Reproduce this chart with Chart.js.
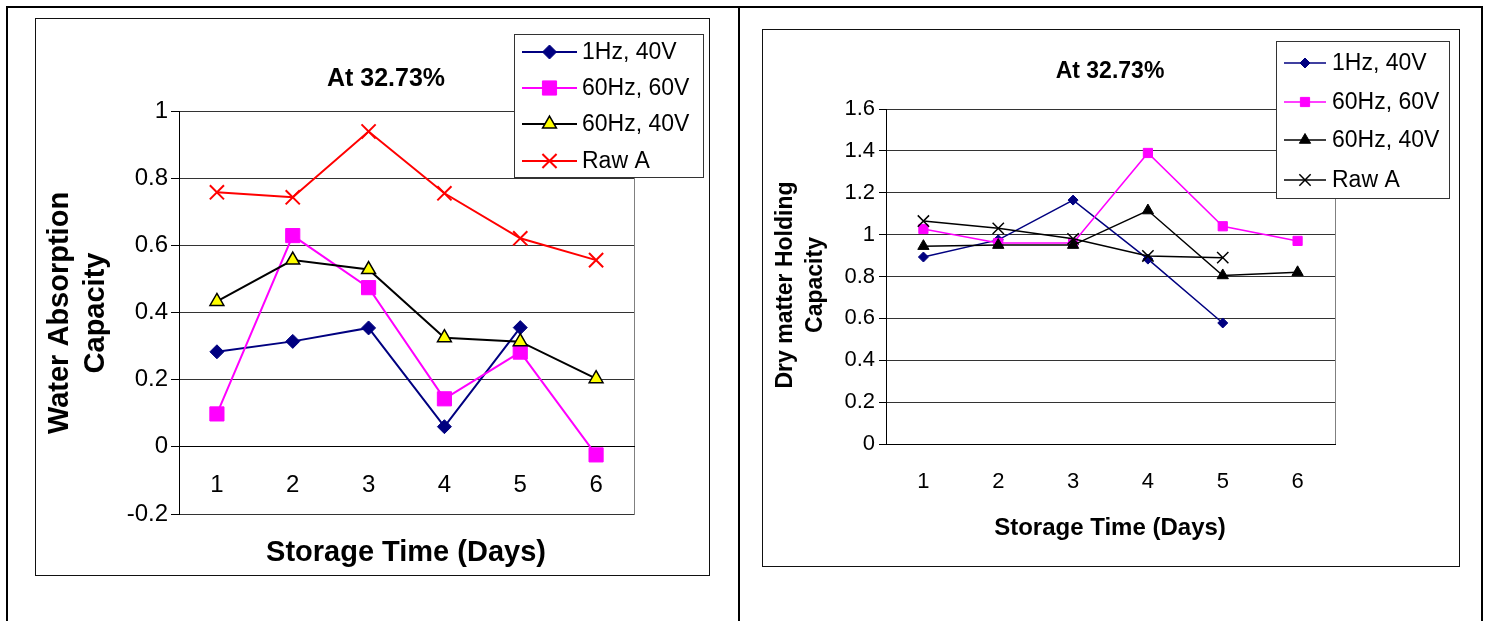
<!DOCTYPE html>
<html>
<head>
<meta charset="utf-8">
<script src="https://cdn.jsdelivr.net/npm/chart.js@4.4.1/dist/chart.umd.min.js"></script>
<style>
  html, body { margin: 0; padding: 0; background: #fff; }
  body { width: 1491px; height: 621px; position: relative; overflow: hidden; }
  .rule { position: absolute; background: #000; }
  .box { position: absolute; border: 1px solid #111; background: #fff; }
  .box canvas { position: absolute; left: 0; top: 0; }
</style>
</head>
<body>
<!-- table rules around the two figures -->
<div class="rule" style="left:6px;top:6px;width:1477px;height:2px"></div>
<div class="rule" style="left:6px;top:6px;width:2px;height:615px"></div>
<div class="rule" style="left:738px;top:6px;width:2px;height:615px"></div>
<div class="rule" style="left:1481px;top:6px;width:2px;height:615px"></div>

<div class="box" style="left:35px;top:18px;width:673px;height:556px">
  <canvas id="waChart" width="673" height="556" style="width:673px;height:556px"></canvas>
</div>
<div class="box" style="left:762px;top:29px;width:696px;height:536px">
  <canvas id="dmChart" width="696" height="536" style="width:696px;height:536px"></canvas>
</div>

<script>
// --- DATA ---
const days = ["1", "2", "3", "4", "5", "6"];
const seriesNames = ["1Hz, 40V", "60Hz, 60V", "60Hz, 40V", "Raw A"];

// water absorption capacity (left)
const wa1Hz40V = [0.283, 0.314, 0.354, 0.06, 0.355, null];
const wa60Hz60V = [0.098, 0.629, 0.474, 0.143, 0.282, -0.024];
const wa60Hz40V = [0.433, 0.556, 0.528, 0.325, 0.313, 0.203];
const waRawA = [0.758, 0.743, 0.939, 0.755, 0.621, 0.556];
const waTicks = [-0.2, 0, 0.2, 0.4, 0.6, 0.8, 1];

// dry matter holding capacity (right)
const dm1Hz40V = [0.893, 0.975, 1.165, 0.883, 0.578, null];
const dm60Hz60V = [1.027, 0.96, 0.96, 1.39, 1.04, 0.97];
const dm60Hz40V = [0.945, 0.95, 0.95, 1.115, 0.805, 0.82];
const dmRawA = [1.065, 1.03, 0.98, 0.898, 0.89, null];
const dmTicks = [0, 0.2, 0.4, 0.6, 0.8, 1, 1.2, 1.4, 1.6];

const FONT = '"Liberation Sans", Arial, sans-serif';
Chart.defaults.font.family = FONT;
Chart.defaults.color = "#000";

function drawMarker(ctx, ds, x, y) {
  ctx.save();
  ctx.fillStyle = ds.pointBackgroundColor;
  ctx.strokeStyle = ds.pointBorderColor;
  ctx.lineWidth = ds.pointBorderWidth;
  Chart.helpers.drawPoint(ctx, {
    pointStyle: ds.pointStyle, radius: ds.pointRadius,
    borderWidth: ds.pointBorderWidth, rotation: 0
  }, x, y);
  ctx.restore();
}

function vText(ctx, text, x, y) {
  ctx.save();
  ctx.translate(x, y);
  ctx.rotate(-Math.PI / 2);
  ctx.fillText(text, 0, 0);
  ctx.restore();
}

// excel-like extras: plot frame, titles and a legend overlapping the plot
function makeDecor(cfg) {
  return {
    id: "excelDecor",
    beforeDraw(chart) {
      const { ctx, chartArea: a } = chart;
      ctx.save();
      ctx.strokeStyle = "#808080";
      ctx.lineWidth = 1;
      ctx.strokeRect(Math.round(a.left) + 0.5, Math.round(a.top) + 0.5,
        Math.round(a.right - a.left), Math.round(a.bottom - a.top));
      ctx.restore();
    },
    afterDraw(chart) {
      const ctx = chart.ctx;
      ctx.save();
      ctx.fillStyle = "#000";
      ctx.textAlign = "center";
      ctx.textBaseline = "middle";

      ctx.font = "bold " + cfg.titleSize + "px " + FONT;
      ctx.fillText(cfg.title, cfg.titleX, cfg.titleY);

      ctx.font = "bold " + cfg.xTitleSize + "px " + FONT;
      ctx.fillText(cfg.xTitle, cfg.xTitleX, cfg.xTitleY);

      ctx.font = "bold " + cfg.yTitleSize + "px " + FONT;
      cfg.yTitle.forEach((line, i) => vText(ctx, line, cfg.yTitleX[i], cfg.yTitleY));

      // legend
      const L = cfg.legend;
      ctx.fillStyle = "#fff";
      ctx.fillRect(L.x, L.y, L.w, L.h);
      ctx.strokeStyle = "#333";
      ctx.lineWidth = 1;
      ctx.strokeRect(L.x + 0.5, L.y + 0.5, L.w, L.h);
      ctx.font = L.size + "px " + FONT;
      ctx.textAlign = "left";
      chart.data.datasets.forEach((ds, i) => {
        const y = L.rows[i];
        ctx.strokeStyle = ds.borderColor;
        ctx.lineWidth = ds.borderWidth;
        ctx.beginPath();
        ctx.moveTo(L.lineX1, y);
        ctx.lineTo(L.lineX2, y);
        ctx.stroke();
        drawMarker(ctx, ds, (L.lineX1 + L.lineX2) / 2, y);
        ctx.fillStyle = "#000";
        ctx.fillText(ds.label, L.textX, y + 1);
      });
      ctx.restore();
    }
  };
}

function series(label, data, color, style, radius, fill, lineW, ptBorder, order) {
  return {
    label: label, data: data, order: order,
    borderColor: color, backgroundColor: fill, borderWidth: lineW,
    pointStyle: style, pointRadius: radius, pointHoverRadius: radius,
    pointBackgroundColor: fill, pointBorderColor: ptBorder || color,
    pointBorderWidth: style === "crossRot" ? lineW : (ptBorder ? 1.5 : 1),
    tension: 0, spanGaps: false, clip: false
  };
}

// --- LEFT CHART ---
new Chart(document.getElementById("waChart"), {
  type: "line",
  data: {
    labels: days,
    datasets: [
      series(seriesNames[0], wa1Hz40V, "#000080", "rectRot", 7, "#000080", 2, null, 4),
      series(seriesNames[1], wa60Hz60V, "#FF00FF", "rect", 10, "#FF00FF", 2, null, 3),
      series(seriesNames[2], wa60Hz40V, "#000000", "triangle", 8, "#FFFF00", 2, "#000000", 2),
      series(seriesNames[3], waRawA, "#FF0000", "crossRot", 10, "#FF0000", 2, null, 1)
    ]
  },
  options: {
    responsive: false,
    animation: false,
    events: [],
    layout: { padding: { left: 0, top: 92, right: 75, bottom: 61 } },
    plugins: { legend: { display: false }, tooltip: { enabled: false } },
    scales: {
      x: {
        position: { y: 0 },
        offset: true,
        grid: { display: false, drawTicks: false, tickLength: 0 },
        border: { display: true, color: "#000", width: 1 },
        ticks: { font: { size: 24 }, padding: 24, maxRotation: 0, autoSkip: false }
      },
      y: {
        min: -0.2, max: 1,
        afterBuildTicks: s => { s.ticks = waTicks.map(v => ({ value: v })); },
        afterFit: s => { s.width = 143; },
        grid: { color: "#333", tickColor: "#000", tickLength: 8 },
        border: { color: "#000" },
        ticks: { font: { size: 24 }, padding: 3, callback: v => String(v) }
      }
    }
  },
  plugins: [makeDecor({
    title: "At 32.73%", titleSize: 25, titleX: 350, titleY: 60,
    xTitle: "Storage Time (Days)", xTitleSize: 29, xTitleX: 370, xTitleY: 534,
    yTitle: ["Water Absorption", "Capacity"], yTitleSize: 29, yTitleX: [24, 60], yTitleY: 294,
    legend: { x: 478, y: 15, w: 189, h: 143, size: 23, rows: [33, 69, 105, 142],
      lineX1: 486, lineX2: 541, textX: 546 }
  })]
});

// --- RIGHT CHART ---
new Chart(document.getElementById("dmChart"), {
  type: "line",
  data: {
    labels: days,
    datasets: [
      series(seriesNames[0], dm1Hz40V, "#000080", "rectRot", 5, "#000080", 1.5, null, 4),
      series(seriesNames[1], dm60Hz60V, "#FF00FF", "rect", 6.5, "#FF00FF", 1.5, null, 3),
      series(seriesNames[2], dm60Hz40V, "#000000", "triangle", 6.5, "#000000", 1.5, null, 2),
      series(seriesNames[3], dmRawA, "#000000", "crossRot", 8, "#000000", 1.5, null, 1)
    ]
  },
  options: {
    responsive: false,
    animation: false,
    events: [],
    layout: { padding: { left: 0, top: 79, right: 124, bottom: 0 } },
    plugins: { legend: { display: false }, tooltip: { enabled: false } },
    scales: {
      x: {
        position: "bottom",
        offset: true,
        afterFit: s => { s.height = 122; },
        grid: { display: false, drawTicks: false, tickLength: 0 },
        border: { display: true, color: "#000", width: 1 },
        ticks: { font: { size: 22 }, padding: 25, maxRotation: 0, autoSkip: false }
      },
      y: {
        min: 0, max: 1.6,
        afterBuildTicks: s => { s.ticks = dmTicks.map(v => ({ value: v })); },
        afterFit: s => { s.width = 123; },
        grid: { color: "#333", tickColor: "#000", tickLength: 7 },
        border: { color: "#000" },
        ticks: { font: { size: 22 }, padding: 4, callback: v => String(v) }
      }
    }
  },
  plugins: [makeDecor({
    title: "At 32.73%", titleSize: 23, titleX: 347, titleY: 42,
    xTitle: "Storage Time (Days)", xTitleSize: 24, xTitleX: 347, xTitleY: 498,
    yTitle: ["Dry matter Holding", "Capacity"], yTitleSize: 23, yTitleX: [23, 53], yTitleY: 255,
    legend: { x: 513, y: 11, w: 173, h: 157, size: 23, rows: [33, 72, 110, 150],
      lineX1: 521, lineX2: 563, textX: 569 }
  })]
});
</script>
</body>
</html>
